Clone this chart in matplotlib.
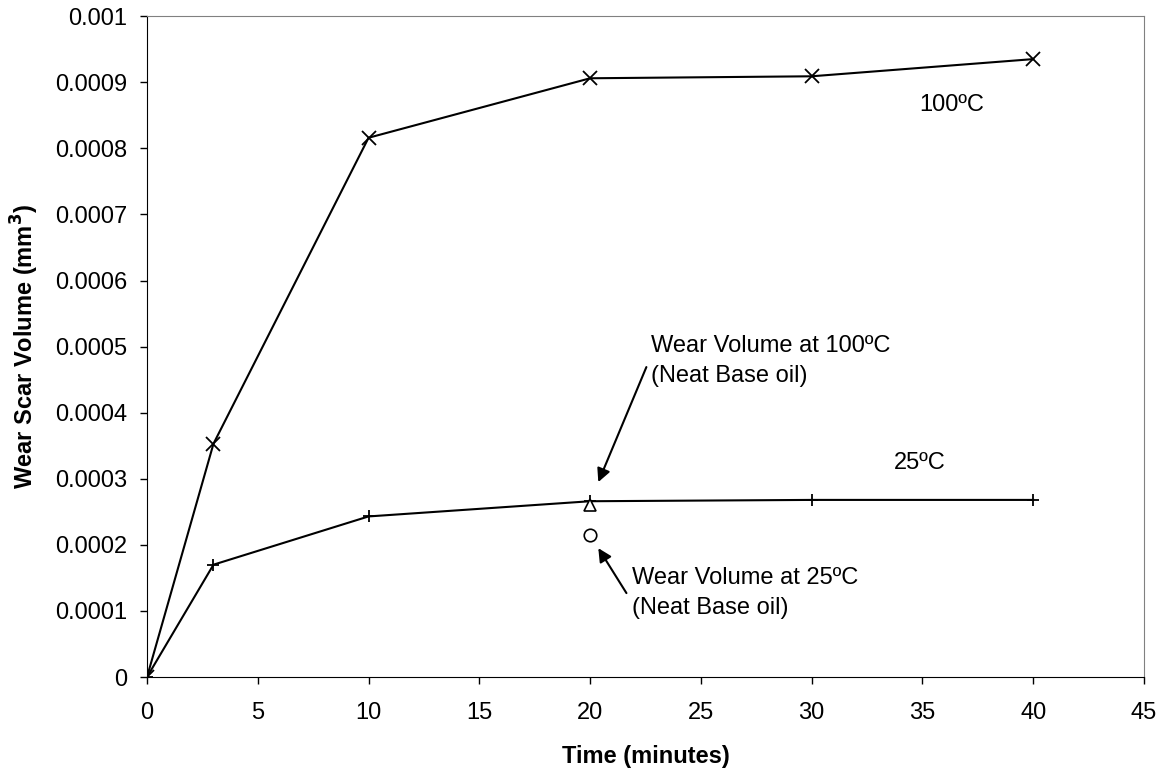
import matplotlib
matplotlib.use("Agg")
import matplotlib.pyplot as plt

# Wear scar volume vs time
time_min = [0, 3, 10, 20, 30, 40]
wear_100c = [0, 0.000353, 0.000816, 0.000906, 0.000909, 0.000935]
wear_25c = [0, 0.000170, 0.000243, 0.000266, 0.000268, 0.000268]

# Neat base oil reference points
base_time = [20]
base_100c = [0.000260]
base_25c = [0.000215]

x_ticks = [0, 5, 10, 15, 20, 25, 30, 35, 40, 45]
y_ticks = [0, 0.0001, 0.0002, 0.0003, 0.0004, 0.0005, 0.0006, 0.0007, 0.0008, 0.0009, 0.001]
y_tick_labels = ["0", "0.0001", "0.0002", "0.0003", "0.0004", "0.0005",
                 "0.0006", "0.0007", "0.0008", "0.0009", "0.001"]

plt.rcParams["font.family"] = ["Liberation Sans", "DejaVu Sans"]

fig = plt.figure(figsize=(11.64, 7.69), dpi=100)
ax = fig.add_axes([0.1263, 0.1196, 0.8565, 0.8594])

ax.plot(time_min, wear_100c, color="black", linewidth=1.5, marker="x",
        markersize=10, markeredgewidth=1.3)
ax.plot(time_min, wear_25c, color="black", linewidth=1.5, marker="+",
        markersize=9, markeredgewidth=1.3)
ax.plot(base_time, base_100c, linestyle="none", marker="^", markersize=9,
        markerfacecolor="white", markeredgecolor="black", markeredgewidth=1.2)
ax.plot(base_time, base_25c, linestyle="none", marker="o", markersize=9,
        markerfacecolor="white", markeredgecolor="black", markeredgewidth=1.2)

ax.set_xlim(0, 45)
ax.set_ylim(0, 0.001)
ax.set_xticks(x_ticks)
ax.set_yticks(y_ticks)
ax.set_yticklabels(y_tick_labels)
ax.tick_params(axis="both", direction="out", length=5, width=1, labelsize=17)
ax.tick_params(axis="x", pad=13)
ax.tick_params(axis="y", pad=9)

for side in ["top", "right"]:
    ax.spines[side].set_color("#808080")
for side in ["left", "bottom"]:
    ax.spines[side].set_color("black")

ax.set_xlabel("Time (minutes)", fontsize=17, fontweight="bold", labelpad=15)
ax.set_ylabel("Wear Scar Volume (mm$^\\mathbf{3}$)", fontsize=17, fontweight="bold", labelpad=10)

ax.text(36.3, 0.000865, "100ºC", fontsize=17, ha="center", va="center")
ax.text(34.9, 0.000324, "25ºC", fontsize=17, ha="center", va="center")

# annotations: text and arrows
ax.text(22.77, 0.000478, "Wear Volume at 100ºC\n(Neat Base oil)", fontsize=17,
        ha="left", va="center", linespacing=1.5)
ax.annotate("", xy=(20.37, 0.000295), xytext=(22.54, 0.000469),
            arrowprops=dict(arrowstyle="-|>", color="black", lw=1.5,
                            mutation_scale=20, shrinkA=0, shrinkB=0))
ax.text(21.87, 0.000127, "Wear Volume at 25ºC\n(Neat Base oil)", fontsize=17,
        ha="left", va="center", linespacing=1.5)
ax.annotate("", xy=(20.37, 0.000195), xytext=(21.64, 0.000127),
            arrowprops=dict(arrowstyle="-|>", color="black", lw=1.5,
                            mutation_scale=20, shrinkA=0, shrinkB=0))

fig.savefig("out.png", dpi=100)
